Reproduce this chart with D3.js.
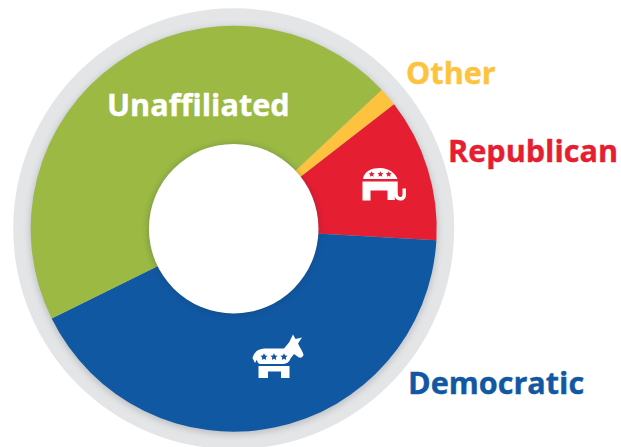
<!DOCTYPE html>
<html><head><meta charset="utf-8">
<script src="https://cdn.jsdelivr.net/npm/d3@7"></script>
<style>html,body{margin:0;padding:0;background:#fff}svg{display:block}text{font-family:"Open Sans",sans-serif;font-weight:700}</style>
</head><body><svg id="c" width="621" height="447"></svg>
<script>
const categories = ["Other","Republican","Democratic","Unaffiliated"];
const shares = [1.5,11.4,41.8,45.3];
const colors = ["#fdc33e","#e61e32","#1158a3","#9bb943"];
const labels = ["Other","Republican","Democratic","Unaffiliated"];
const labelColors = ["#fdc33e","#e61e32","#1158a3","#ffffff"];
const labelPos = [[406,84],[448,162],[408,394],[107,116]];

const svg = d3.select("#c");
const defs = svg.append("defs");
const blur = defs.append("filter").attr("id","sh").attr("x","-20%").attr("y","-20%").attr("width","140%").attr("height","140%");
blur.append("feGaussianBlur").attr("stdDeviation",3);
const cx=233.7, cy=228.7, R=203, r=84.8;
const g = svg.append("g").attr("transform",`translate(${cx},${cy})`);
g.append("circle").attr("r",220.5).attr("fill","#e3e5e7");
g.append("circle").attr("r",R+1).attr("cy",2).attr("fill","#9a9ca0").attr("opacity",.5).attr("filter","url(#sh)");
const start = 46.8*Math.PI/180;
const pie = d3.pie().sort(null).startAngle(start).endAngle(start+2*Math.PI);
const arc = d3.arc().innerRadius(r-2).outerRadius(R);
const arcs = pie(shares);
g.selectAll("path.s").data(arcs).join("path").attr("class","s").attr("d",arc).attr("fill",(d,i)=>colors[i]);
g.append("circle").attr("r",r+.5).attr("cy",1).attr("fill","#123050").attr("opacity",.3).attr("filter","url(#sh)");
g.append("circle").attr("r",r).attr("fill","#fff");

const star=(x,y,s)=>{let p="";for(let i=0;i<10;i++){const a=-Math.PI/2+i*Math.PI/5,q=i%2?s*.5:s;p+=(i?"L":"M")+(x+q*Math.cos(a)).toFixed(2)+" "+(y+q*Math.sin(a)).toFixed(2);}return p+"Z";};
const el=svg.append("g").attr("transform","translate(340,150)");
el.append("path").attr("fill","#fff").attr("d","M23 29C24 21 32 18 40 18C49 18 55 23 57.5 29Z");
[[31.7,24.3],[40.4,24.3],[48.7,24.3]].forEach(a=>el.append("path").attr("fill","#e61e32").attr("d",star(a[0],a[1],3.1)));
el.append("path").attr("fill","#fff").attr("d","M22.5 31.5H57.7V42.5C57.7 46 59 47 60.5 47C62 47 62.5 46 62.5 44V38.5H66V44.5C66 48.5 63.5 50.5 60.5 50.5C57.5 50.5 55.5 49 54.8 46.5V50H47.5V40.5H30.5V50.5H22.5Z");
const dk=svg.append("g").attr("transform","translate(240,325)");
dk.append("path").attr("fill","#fff").attr("d","M12.5 33C15 25.5 19 23.5 27 23.5H44C47 20 49 18 50.5 14.5L53 9.5L55.5 14L62 12.5L58 18.5C59.5 22 62.5 26 63.5 29.5C63.5 32 61 33 59 32.5L54 29L50.5 33.5C49 37.5 47 39 41 39H20C18 39 17 36.5 17 34.5L15 38Z");
[[24,32],[34,32],[44,32]].forEach(a=>dk.append("path").attr("fill","#1158a3").attr("d",star(a[0],a[1],3.7)));
dk.append("path").attr("fill","#fff").attr("d","M18.5 41H49.5V53H41V46.5H28V53H18.5Z");

svg.selectAll("text.l").data(labels).join("text").attr("class","l")
 .attr("x",(d,i)=>labelPos[i][0]).attr("y",(d,i)=>labelPos[i][1])
 .attr("fill",(d,i)=>labelColors[i]).attr("stroke",(d,i)=>labelColors[i]).attr("stroke-width",.4)
 .attr("font-size",30.6).text(d=>d);
</script></body></html>
